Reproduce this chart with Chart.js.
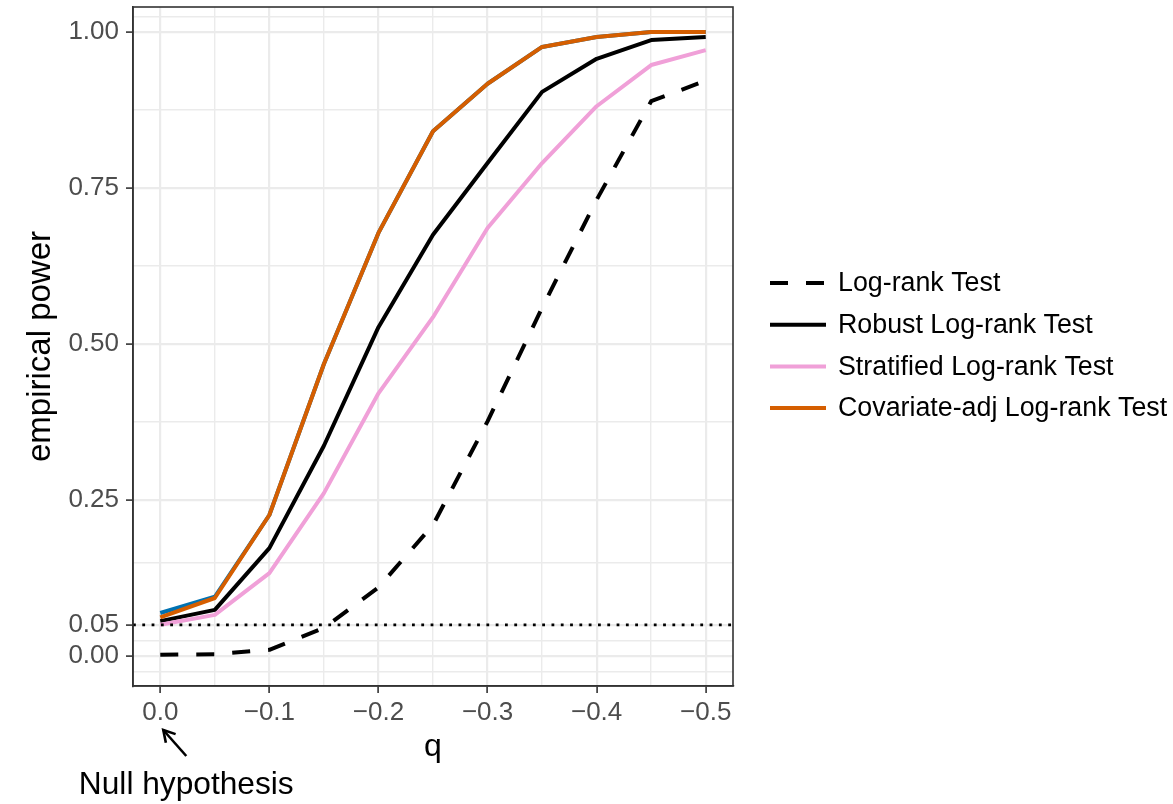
<!DOCTYPE html>
<html>
<head>
<meta charset="utf-8">
<script src="https://cdn.jsdelivr.net/npm/chart.js@4.4.1/dist/chart.umd.min.js"></script>
<style>
  html, body { margin: 0; padding: 0; background: #ffffff; }
  #wrap { width: 1173px; height: 804px; }
</style>
</head>
<body>
<div id="wrap"><canvas id="c" width="1173" height="804"></canvas></div>
<script>
// ---- data ----
const qValues      = [0, -0.05, -0.1, -0.15, -0.2, -0.25, -0.3, -0.35, -0.4, -0.45, -0.5];
const logRank      = [0.002, 0.003, 0.010, 0.045, 0.110, 0.210, 0.376, 0.558, 0.731, 0.889, 0.922];
const robust       = [0.056, 0.074, 0.173, 0.337, 0.527, 0.675, 0.790, 0.904, 0.957, 0.987, 0.992];
const stratified   = [0.050, 0.066, 0.133, 0.261, 0.421, 0.543, 0.686, 0.790, 0.881, 0.947, 0.971];
const covAdj       = [0.062, 0.093, 0.226, 0.468, 0.678, 0.841, 0.917, 0.976, 0.992, 1.000, 1.000];
const covAdjBlue   = [0.069, 0.095, 0.226, 0.468, 0.678, 0.841, 0.917, 0.976, 0.992, 1.000, 1.000];
const seriesNames  = ['Log-rank Test', 'Robust Log-rank Test', 'Stratified Log-rank Test', 'Covariate-adj Log-rank Test'];
const nullLevel    = 0.05;

const xMajorTicks  = [0, -0.1, -0.2, -0.3, -0.4, -0.5];
const xTickLabels  = ['0.0', '\u22120.1', '\u22120.2', '\u22120.3', '\u22120.4', '\u22120.5'];
const xMinorTicks  = [-0.05, -0.15, -0.25, -0.35, -0.45];
const yMajorTicks  = [0, 0.05, 0.25, 0.5, 0.75, 1];
const yTickLabels  = ['0.00', '0.05', '0.25', '0.50', '0.75', '1.00'];
const yMinorTicks  = [-0.025, 0.025, 0.15, 0.375, 0.625, 0.875, 1.025];

const xTitle = 'q';
const yTitle = 'empirical power';
const noteText = 'Null hypothesis';

// ---- helpers ----
const FONT = '"Liberation Sans", Arial, Helvetica, sans-serif';
const pts = arr => arr.map((v, i) => ({ x: qValues[i], y: v }));
const findIdx = (list, v) => list.findIndex(t => Math.abs(t - v) < 1e-9);
const isMajor = (list, v) => findIdx(list, v) >= 0;

const GRID = '#EBEBEB';
const DARK = '#333333';

const datasets = [
  { label: seriesNames[3], data: pts(covAdj), borderColor: '#D55E00', borderDash: [], order: 1, inLegend: true, legendPos: 3 },
  { label: seriesNames[2], data: pts(stratified), borderColor: '#F0A0D8', borderDash: [], order: 2, inLegend: true, legendPos: 2 },
  { label: seriesNames[1], data: pts(robust), borderColor: '#000000', borderDash: [], order: 3, inLegend: true, legendPos: 1 },
  { label: seriesNames[0], data: pts(logRank), borderColor: '#000000', borderDash: [18, 18], order: 4, inLegend: true, legendPos: 0 },
  { label: 'covadj-b', data: pts(covAdjBlue), borderColor: '#0072B2', borderDash: [], order: 5, inLegend: false }
].map(d => Object.assign({
  borderWidth: 4, pointRadius: 0, pointHoverRadius: 0, fill: false, tension: 0,
  borderCapStyle: 'butt', borderJoinStyle: 'round'
}, d));

// ---- plugins ----
const refLinePlugin = {
  id: 'refLine',
  afterDatasetsDraw(chart) {
    const { ctx, chartArea: a, scales: { y } } = chart;
    const py = y.getPixelForValue(nullLevel);
    ctx.save();
    ctx.strokeStyle = '#000000';
    ctx.lineWidth = 2.8;
    ctx.lineCap = 'butt';
    ctx.setLineDash([2.8, 6.5]);
    ctx.beginPath();
    ctx.moveTo(a.left, py);
    ctx.lineTo(a.right, py);
    ctx.stroke();
    ctx.restore();
    // panel border
    ctx.save();
    ctx.strokeStyle = DARK;
    ctx.lineWidth = 1.6;
    ctx.strokeRect(a.left, a.top, a.right - a.left, a.bottom - a.top);
    ctx.restore();
  }
};

const legendPlugin = {
  id: 'customLegend',
  afterDraw(chart) {
    const { ctx } = chart;
    const items = chart.data.datasets.filter(d => d.inLegend).sort((a, b) => a.legendPos - b.legendPos);
    const x0 = 770, x1 = 826, tx = 838, y0 = 283, dy = 41.7;
    ctx.save();
    ctx.font = '26.8px ' + FONT;
    ctx.textBaseline = 'middle';
    ctx.textAlign = 'left';
    items.forEach((d, i) => {
      const yy = y0 + i * dy;
      ctx.strokeStyle = d.borderColor;
      ctx.lineWidth = d.borderWidth;
      ctx.lineCap = 'butt';
      ctx.setLineDash(d.borderDash || []);
      ctx.beginPath();
      ctx.moveTo(x0, yy);
      ctx.lineTo(x1, yy);
      ctx.stroke();
      ctx.setLineDash([]);
      ctx.fillStyle = '#000000';
      ctx.fillText(d.label, tx, yy + 1);
    });
    ctx.restore();
  }
};

const notePlugin = {
  id: 'note',
  afterDraw(chart) {
    const { ctx, scales: { x } } = chart;
    const px = x.getPixelForValue(0);
    const tipX = px + 3, tipY = 730;
    const tailX = px + 26, tailY = 756;
    ctx.save();
    ctx.strokeStyle = '#000000';
    ctx.lineWidth = 2.6;
    ctx.lineCap = 'butt';
    ctx.beginPath();
    ctx.moveTo(tailX, tailY);
    ctx.lineTo(tipX, tipY);
    ctx.stroke();
    const ang = Math.atan2(tipY - tailY, tipX - tailX);
    const hl = 13, ha = Math.PI / 6;
    ctx.beginPath();
    ctx.moveTo(tipX - hl * Math.cos(ang - ha), tipY - hl * Math.sin(ang - ha));
    ctx.lineTo(tipX, tipY);
    ctx.lineTo(tipX - hl * Math.cos(ang + ha), tipY - hl * Math.sin(ang + ha));
    ctx.stroke();
    ctx.font = '31.7px ' + FONT;
    ctx.fillStyle = '#000000';
    ctx.textAlign = 'center';
    ctx.textBaseline = 'alphabetic';
    ctx.fillText(noteText, px + 26, 794);
    ctx.restore();
  }
};

// ---- chart ----
new Chart(document.getElementById('c'), {
  type: 'line',
  data: { datasets },
  options: {
    responsive: false,
    animation: false,
    events: [],
    layout: { padding: { left: 0, right: 440, top: 7, bottom: 0 } },
    plugins: { legend: { display: false }, tooltip: { enabled: false } },
    scales: {
      x: {
        type: 'linear',
        min: -0.525, max: 0.025, reverse: true,
        afterBuildTicks(scale) {
          scale.ticks = xMajorTicks.concat(xMinorTicks).map(v => ({ value: v }));
        },
        afterFit(scale) { scale.height = 118; scale.paddingLeft = 0; scale.paddingRight = 0; },
        ticks: {
          autoSkip: false, maxRotation: 0, minRotation: 0, padding: 4,
          color: '#4D4D4D', font: { family: FONT, size: 26 },
          callback(v) { const i = findIdx(xMajorTicks, v); return i >= 0 ? xTickLabels[i] : ''; }
        },
        grid: {
          color: GRID,
          lineWidth: c => (c.tick && isMajor(xMajorTicks, c.tick.value)) ? 2.2 : 1.4,
          tickLength: 7,
          tickWidth: 1.6,
          tickColor: c => (c.tick && isMajor(xMajorTicks, c.tick.value)) ? DARK : 'rgba(0,0,0,0)'
        },
        border: { display: true, color: DARK, width: 1.6 },
        title: { display: true, text: xTitle, color: '#000000', font: { family: FONT, size: 32 }, padding: { top: 0, bottom: 38 } }
      },
      y: {
        type: 'linear',
        min: -0.048, max: 1.04,
        afterBuildTicks(scale) {
          scale.ticks = yMajorTicks.concat(yMinorTicks).map(v => ({ value: v }));
        },
        afterFit(scale) { scale.width = 133; scale.paddingTop = 0; scale.paddingBottom = 0; },
        ticks: {
          autoSkip: false, padding: 7,
          color: '#4D4D4D', font: { family: FONT, size: 26 },
          callback(v) { const i = findIdx(yMajorTicks, v); return i >= 0 ? yTickLabels[i] : ''; }
        },
        grid: {
          color: GRID,
          lineWidth: c => (c.tick && isMajor(yMajorTicks, c.tick.value)) ? 2.2 : 1.4,
          tickLength: 7,
          tickWidth: 1.6,
          tickColor: c => (c.tick && isMajor(yMajorTicks, c.tick.value)) ? DARK : 'rgba(0,0,0,0)'
        },
        border: { display: true, color: DARK, width: 1.6 },
        title: { display: true, text: yTitle, color: '#000000', font: { family: FONT, size: 33 }, padding: { top: 21, bottom: 0 } }
      }
    }
  },
  plugins: [refLinePlugin, legendPlugin, notePlugin]
});
</script>
</body>
</html>
